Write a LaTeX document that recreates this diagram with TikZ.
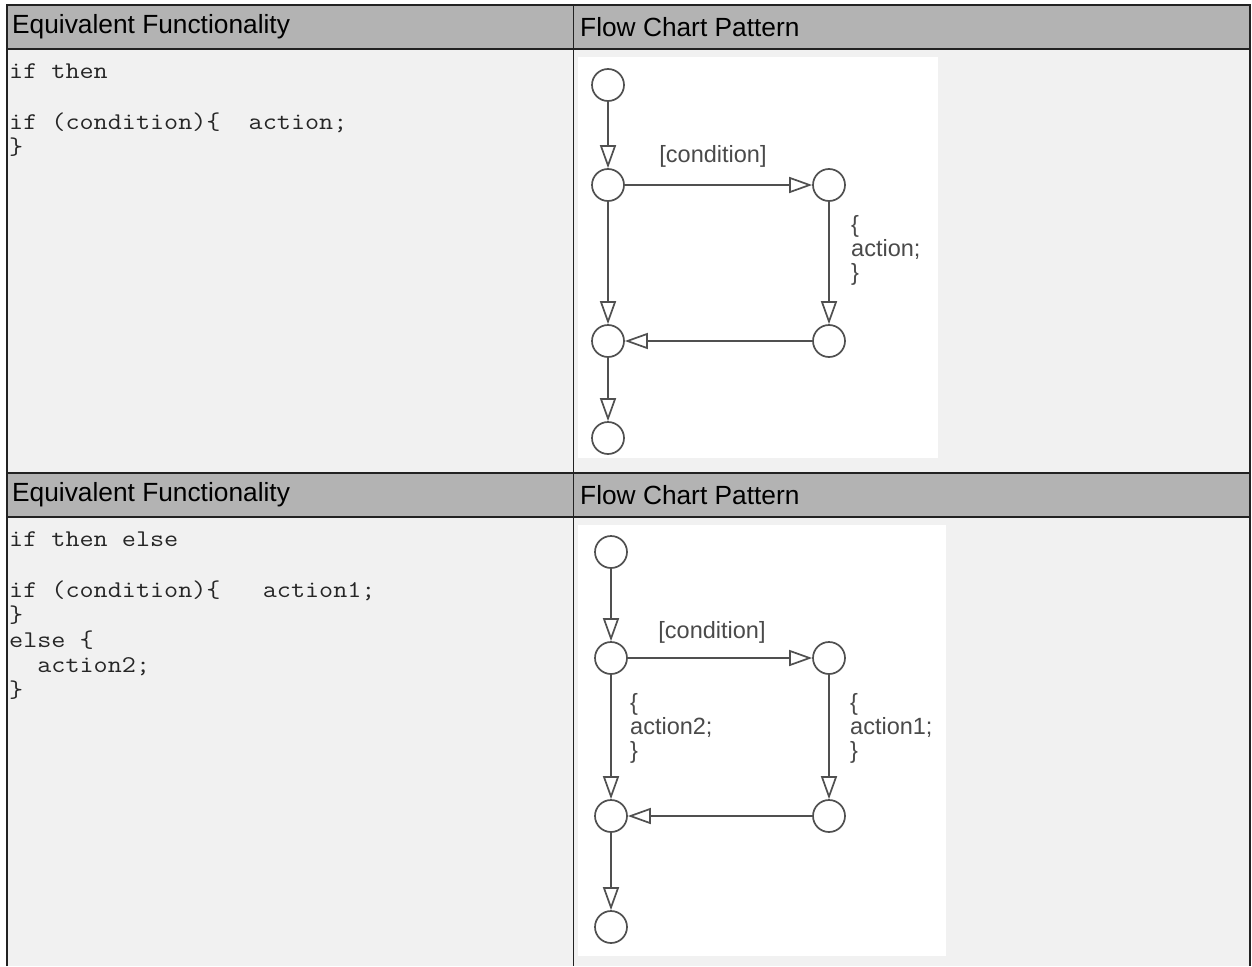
\documentclass[tikz,border=0pt]{standalone}
\usepackage{fontspec}
\usepackage{graphicx}
\setmainfont{Liberation Sans}
\usetikzlibrary{arrows.meta}
\definecolor{hdr}{HTML}{B3B3B3}
\definecolor{bodybg}{HTML}{F1F1F1}
\definecolor{rulec}{HTML}{222222}
\definecolor{fcline}{HTML}{505050}
\definecolor{fctext}{HTML}{4A4A4A}
\newcommand\codetxt[1]{\scalebox{1.14}[1]{#1}}
\begin{document}
\begin{tikzpicture}[x=1pt,y=-1pt,
  state/.style={circle, draw=fcline, line width=1.7pt, fill=white, minimum size=32pt, inner sep=0pt},
  flow/.style={draw=fcline, line width=1.7pt, -{Triangle[length=23pt,width=16pt,fill=white]}},
  hdrtext/.style={anchor=west, inner sep=0pt, font=\fontsize{26.3}{30}\selectfont, text=black},
  code/.style={anchor=base west, inner sep=0pt, font=\ttfamily\fontsize{24}{26}\selectfont, text=black!85},
  lbl/.style={inner sep=0pt, font=\fontsize{23.5}{24}\selectfont, text=fctext},
  lblw/.style={lbl, anchor=west, align=left},
  tablerule/.style={draw=rulec, line width=1.5pt},
]
\useasboundingbox (0,0) rectangle (1252,966);
% table background
\fill[bodybg] (7,5) rectangle (1250,966);
\fill[hdr] (7,5) rectangle (1250,49);
\fill[hdr] (7,473) rectangle (1250,517);
\fill[white] (578,57) rectangle (938,458);
\fill[white] (578,525) rectangle (946,956);
% rules
\draw[tablerule] (7,966) -- (7,5) -- (1250,5) -- (1250,966);
\draw[tablerule] (7,49) -- (1250,49);
\draw[tablerule] (7,473) -- (1250,473);
\draw[tablerule] (7,517) -- (1250,517);
\draw[tablerule] (573.5,5) -- (573.5,966);
% headers
\node[hdrtext] (h1a) at (12,27) {Equivalent Functionality};
\node[hdrtext] (h1b) at (580,27) {Flow Chart Pattern};
\node[hdrtext] (h2a) at (12,495) {Equivalent Functionality};
\node[hdrtext] (h2b) at (580,495) {Flow Chart Pattern};
% code row 1
\node[code] (c11) at (9,78) {\codetxt{if then}};
\node[code] (c12) at (9,129) {\codetxt{if (condition)\{~~action;}};
\node[code] (c13) at (9,154) {\codetxt{\}}};
% code row 2
\node[code] (c21) at (9,546) {\codetxt{if then else}};
\node[code] (c22) at (9,597) {\codetxt{if (condition)\{~~~action1;}};
\node[code] (c23) at (9,622) {\codetxt{\}}};
\node[code] (c24) at (9,647) {\codetxt{else \{}};
\node[code] (c25) at (9,672) {\codetxt{~~action2;}};
\node[code] (c26) at (9,697) {\codetxt{\}}};
% flow chart 1
\node[state] (a1) at (608,85) {};
\node[state] (a2) at (608,185) {};
\node[state] (a3) at (829,185) {};
\node[state] (a4) at (829,341) {};
\node[state] (a5) at (608,341) {};
\node[state] (a6) at (608,438) {};
\draw[flow] (a1) -- (a2);
\draw[flow] (a2) -- (a3);
\draw[flow] (a3) -- (a4);
\draw[flow] (a4) -- (a5);
\draw[flow] (a2) -- (a5);
\draw[flow] (a5) -- (a6);
\node[lbl] (l1) at (713,156) {[condition]};
\node[lblw] (l2) at (851,250) {\{\\action;\\\}};
% flow chart 2
\node[state] (b1) at (611,552) {};
\node[state] (b2) at (611,658) {};
\node[state] (b3) at (829,658) {};
\node[state] (b4) at (829,816) {};
\node[state] (b5) at (611,816) {};
\node[state] (b6) at (611,927) {};
\draw[flow] (b1) -- (b2);
\draw[flow] (b2) -- (b3);
\draw[flow] (b3) -- (b4);
\draw[flow] (b4) -- (b5);
\draw[flow] (b2) -- (b5);
\draw[flow] (b5) -- (b6);
\node[lbl] (m1) at (712,632) {[condition]};
\node[lblw] (m2) at (630,728) {\{\\action2;\\\}};
\node[lblw] (m3) at (850,728) {\{\\action1;\\\}};
\end{tikzpicture}
\end{document}
